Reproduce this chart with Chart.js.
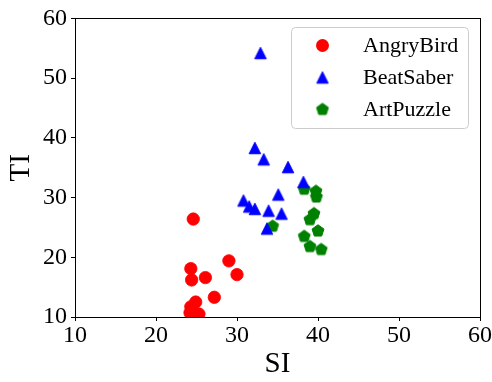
<!DOCTYPE html>
<html>
<head>
<meta charset="utf-8">
<script src="https://cdn.jsdelivr.net/npm/chart.js@4"></script>
<style>
  html, body { margin: 0; padding: 0; background: #fff; }
  #wrap { width: 492px; height: 382px; }
</style>
</head>
<body>
<div id="wrap"><canvas id="chart" width="492" height="382"></canvas></div>
<script>
// values
const seriesNames = ["AngryBird", "BeatSaber", "ArtPuzzle"];

const angryBirdSI = [24.6, 24.3, 24.4, 26.1, 29.0, 30.0, 27.2, 24.9, 24.3, 24.2, 25.3, 24.6];
const angryBirdTI = [26.4, 18.1, 16.2, 16.6, 19.4, 17.1, 13.3, 12.5, 11.7, 10.7, 10.5, 10.3];

const beatSaberSI = [32.9, 32.2, 33.3, 36.3, 38.2, 35.1, 30.8, 31.5, 32.2, 33.9, 35.5, 33.7];
const beatSaberTI = [54.2, 38.3, 36.4, 35.1, 32.6, 30.5, 29.5, 28.5, 28.1, 27.8, 27.3, 24.8];

const artPuzzleSI = [38.3, 39.75, 39.8, 39.5, 39.0, 40.0, 38.3, 39.0, 40.4, 34.4];
const artPuzzleTI = [31.4, 31.05, 30.1, 27.3, 26.3, 24.4, 23.5, 21.8, 21.3, 25.2];

const xTicks = [10, 20, 30, 40, 50, 60];
const yTicks = [10, 20, 30, 40, 50, 60];

const SERIF = "'Liberation Serif', 'DejaVu Serif', serif";

function toPoints(xs, ys) {
  return xs.map((x, i) => ({ x: x, y: ys[i] }));
}

// matplotlib style markers ('^' is as tall as it is wide, 'p' is a pentagon)
function makeMarker(shape, color, size) {
  const c = document.createElement("canvas");
  c.width = 18;
  c.height = 18;
  const g = c.getContext("2d");
  const cx = 9, cy = 9, h = size / 2;
  g.fillStyle = color;
  g.strokeStyle = color;
  g.lineWidth = 1;
  g.beginPath();
  if (shape === "triangle") {
    g.moveTo(cx, cy - h);
    g.lineTo(cx + h, cy + h);
    g.lineTo(cx - h, cy + h);
  } else {
    for (let k = 0; k < 5; k++) {
      const a = -Math.PI / 2 + k * 2 * Math.PI / 5;
      const px = cx + Math.cos(a) * h, py = cy + Math.sin(a) * h;
      if (k === 0) g.moveTo(px, py); else g.lineTo(px, py);
    }
  }
  g.closePath();
  g.fill();
  g.stroke();
  return c;
}

const triangleMarker = makeMarker("triangle", "#0000ff", 11.5);
const pentagonMarker = makeMarker("pentagon", "#008000", 12.5);

// draws the frame round the plot, like matplotlib spines
const framePlugin = {
  id: "frame",
  afterDatasetsDraw(chart) {
    const a = chart.chartArea;
    const ctx = chart.ctx;
    ctx.save();
    ctx.strokeStyle = "#000";
    ctx.lineWidth = 1;
    ctx.strokeRect(Math.round(a.left) + 0.5, Math.round(a.top) + 0.5,
      Math.round(a.right - a.left), Math.round(a.bottom - a.top));
    ctx.restore();
  },
};

// legend box in the upper right corner
const legendPlugin = {
  id: "boxLegend",
  afterDraw(chart) {
    const ctx = chart.ctx;
    const left = 291, top = 27, w = 177, h = 101, r = 4;
    ctx.save();
    ctx.fillStyle = "rgba(255,255,255,0.8)";
    ctx.strokeStyle = "#cccccc";
    ctx.lineWidth = 1;
    ctx.beginPath();
    ctx.roundRect(left + 0.5, top + 0.5, w, h, r);
    ctx.fill();
    ctx.stroke();

    const rows = [45.5, 77.5, 109.5];
    const mx = 322.5;
    ctx.font = "22px " + SERIF;
    ctx.fillStyle = "#000";
    ctx.textBaseline = "middle";
    chart.data.datasets.forEach((ds, i) => {
      const y = rows[i];
      if (ds.pointStyle === "circle") {
        ctx.fillStyle = ds.backgroundColor;
        ctx.beginPath();
        ctx.arc(mx, y, 6.5, 0, Math.PI * 2);
        ctx.fill();
      } else {
        ctx.drawImage(ds.pointStyle, mx - 9, y - 9);
      }
      ctx.fillStyle = "#000";
      ctx.fillText(ds.label, 363, y + 1);
    });
    ctx.restore();
  },
};

const ctx = document.getElementById("chart").getContext("2d");
new Chart(ctx, {
  type: "scatter",
  data: {
    datasets: [
      {
        label: seriesNames[0],
        data: toPoints(angryBirdSI, angryBirdTI),
        pointStyle: "circle",
        pointRadius: 6.2,
        pointHoverRadius: 6.2,
        borderWidth: 0.8,
        backgroundColor: "#ff0000",
        borderColor: "#ff0000",
        clip: 0,
      },
      {
        label: seriesNames[1],
        data: toPoints(beatSaberSI, beatSaberTI),
        pointStyle: triangleMarker,
        backgroundColor: "#0000ff",
        borderColor: "#0000ff",
        clip: 0,
      },
      {
        label: seriesNames[2],
        data: toPoints(artPuzzleSI, artPuzzleTI),
        pointStyle: pentagonMarker,
        backgroundColor: "#008000",
        borderColor: "#008000",
        clip: 0,
      },
    ],
  },
  options: {
    responsive: false,
    animation: false,
    layout: { padding: { left: 0, top: 16, right: 12, bottom: 0 } },
    plugins: {
      legend: { display: false },
      tooltip: { enabled: false },
    },
    scales: {
      x: {
        type: "linear",
        min: 10,
        max: 60,
        afterBuildTicks: (axis) => {
          axis.ticks = xTicks.map((v) => ({ value: v }));
        },
        afterFit: (axis) => {
          axis.height = 65;
        },
        grid: {
          drawOnChartArea: false,
          drawTicks: true,
          tickLength: 4,
          color: "#000",
        },
        border: { display: false },
        ticks: {
          color: "#000",
          padding: 0,
          maxRotation: 0,
          font: { family: SERIF, size: 24 },
        },
        title: {
          display: true,
          text: "SI",
          color: "#000",
          padding: { top: 0, bottom: 0 },
          font: { family: SERIF, size: 29, lineHeight: 1.2 },
        },
      },
      y: {
        type: "linear",
        min: 10,
        max: 60,
        afterBuildTicks: (axis) => {
          axis.ticks = yTicks.map((v) => ({ value: v }));
        },
        afterFit: (axis) => {
          axis.width = 75;
        },
        grid: {
          drawOnChartArea: false,
          drawTicks: true,
          tickLength: 4,
          color: "#000",
        },
        border: { display: false },
        ticks: {
          color: "#000",
          padding: 4,
          font: { family: SERIF, size: 24 },
        },
        title: {
          display: true,
          text: "TI",
          color: "#000",
          padding: { top: 4, bottom: 0 },
          font: { family: SERIF, size: 29, lineHeight: 1.2 },
        },
      },
    },
  },
  plugins: [framePlugin, legendPlugin],
});
</script>
</body>
</html>
